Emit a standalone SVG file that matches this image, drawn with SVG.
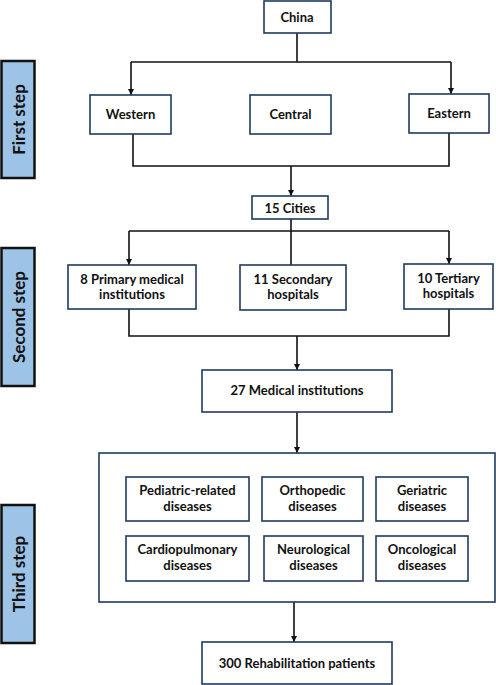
<svg xmlns="http://www.w3.org/2000/svg" width="496" height="685" viewBox="0 0 496 685">
<style>
.box{fill:#fff;stroke:#1f3a60;stroke-width:1.6}
.step{fill:#9dc3e6;stroke:#111;stroke-width:2.5}
.t{font-family:Lato,"Open Sans",sans-serif;font-weight:bold;font-size:13px;fill:#111;text-anchor:middle}
.st{font-family:Lato,"Open Sans",sans-serif;font-weight:bold;font-size:17px;fill:#111;text-anchor:middle}
.ln{fill:none;stroke:#111;stroke-width:1.6}
</style>
<defs>
<marker id="ar" viewBox="0 0 10 10" refX="10" refY="5" markerWidth="6" markerHeight="6" markerUnits="userSpaceOnUse" orient="auto">
<path d="M0,0 L10,5 L0,10 z" fill="#111"/>
</marker>
</defs>
<g id="connectors">
<path class="ln" d="M297,33 V62"/>
<path class="ln" d="M131,62 H451"/>
<path class="ln" d="M131,62 V95" marker-end="url(#ar)"/>
<path class="ln" d="M451,62 V94" marker-end="url(#ar)"/>
<path class="ln" d="M133,134 V166 H449 V133"/>
<path class="ln" d="M291,166 V196" marker-end="url(#ar)"/>
<path class="ln" d="M291,219 V265"/>
<path class="ln" d="M129,231 H449"/>
<path class="ln" d="M129,231 V265" marker-end="url(#ar)"/>
<path class="ln" d="M449,231 V264" marker-end="url(#ar)"/>
<path class="ln" d="M129,309 V336 H449 V309"/>
<path class="ln" d="M297,336 V370" marker-end="url(#ar)"/>
<path class="ln" d="M297,412 V453" marker-end="url(#ar)"/>
<path class="ln" d="M294,602 V642" marker-end="url(#ar)"/>
</g>
<g id="step1"><rect class="step" x="1.5" y="61" width="33" height="117"/><text class="st" transform="translate(24.5,119.5) rotate(-90)">First step</text></g>
<g id="step2"><rect class="step" x="1.5" y="248" width="33" height="138"/><text class="st" transform="translate(24.5,317) rotate(-90)">Second step</text></g>
<g id="step3"><rect class="step" x="1.5" y="505" width="33" height="138"/><text class="st" transform="translate(24.5,574) rotate(-90)">Third step</text></g>
<g id="china"><rect class="box" x="264" y="1" width="67" height="32"/><text class="t" x="297" y="21.5">China</text></g>
<g id="western"><rect class="box" x="90" y="95" width="81" height="39"/><text class="t" x="130.5" y="118.5">Western</text></g>
<g id="central"><rect class="box" x="250" y="95" width="81" height="39"/><text class="t" x="290.5" y="118.5">Central</text></g>
<g id="eastern"><rect class="box" x="409" y="94" width="80" height="39"/><text class="t" x="449" y="117.5">Eastern</text></g>
<g id="cities"><rect class="box" x="252" y="196" width="76" height="23"/><text class="t" x="290" y="212.5">15 Cities</text></g>
<g id="primary"><rect class="box" x="68" y="265" width="128" height="44"/><text class="t" x="132" y="283.5">8 Primary medical</text><text class="t" x="132" y="298.5">institutions</text></g>
<g id="secondary"><rect class="box" x="240" y="265" width="106" height="45"/><text class="t" x="293" y="283.5">11 Secondary</text><text class="t" x="293" y="298.5">hospitals</text></g>
<g id="tertiary"><rect class="box" x="404" y="264" width="89" height="45"/><text class="t" x="448.5" y="282.5">10 Tertiary</text><text class="t" x="448.5" y="297.5">hospitals</text></g>
<g id="medical"><rect class="box" x="202" y="370" width="190" height="42"/><text class="t" x="297" y="395">27 Medical institutions</text></g>
<g id="diseases"><rect class="box" x="99" y="453" width="396" height="149"/></g>
<g id="pediatric"><rect class="box" x="126" y="477" width="123" height="44"/><text class="t" x="187.5" y="495">Pediatric-related</text><text class="t" x="187.5" y="510.5">diseases</text></g>
<g id="orthopedic"><rect class="box" x="262" y="477" width="101" height="44"/><text class="t" x="312.5" y="495">Orthopedic</text><text class="t" x="312.5" y="510.5">diseases</text></g>
<g id="geriatric"><rect class="box" x="376" y="477" width="92" height="44"/><text class="t" x="422" y="495">Geriatric</text><text class="t" x="422" y="510.5">diseases</text></g>
<g id="cardio"><rect class="box" x="126" y="536" width="123" height="45"/><text class="t" x="187.5" y="554">Cardiopulmonary</text><text class="t" x="187.5" y="569.5">diseases</text></g>
<g id="neuro"><rect class="box" x="264" y="536" width="99" height="45"/><text class="t" x="313.5" y="554">Neurological</text><text class="t" x="313.5" y="569.5">diseases</text></g>
<g id="onco"><rect class="box" x="376" y="536" width="92" height="45"/><text class="t" x="422" y="554">Oncological</text><text class="t" x="422" y="569.5">diseases</text></g>
<g id="patients"><rect class="box" x="202" y="642" width="190" height="42"/><text class="t" x="297" y="667.5">300 Rehabilitation patients</text></g>
</svg>
